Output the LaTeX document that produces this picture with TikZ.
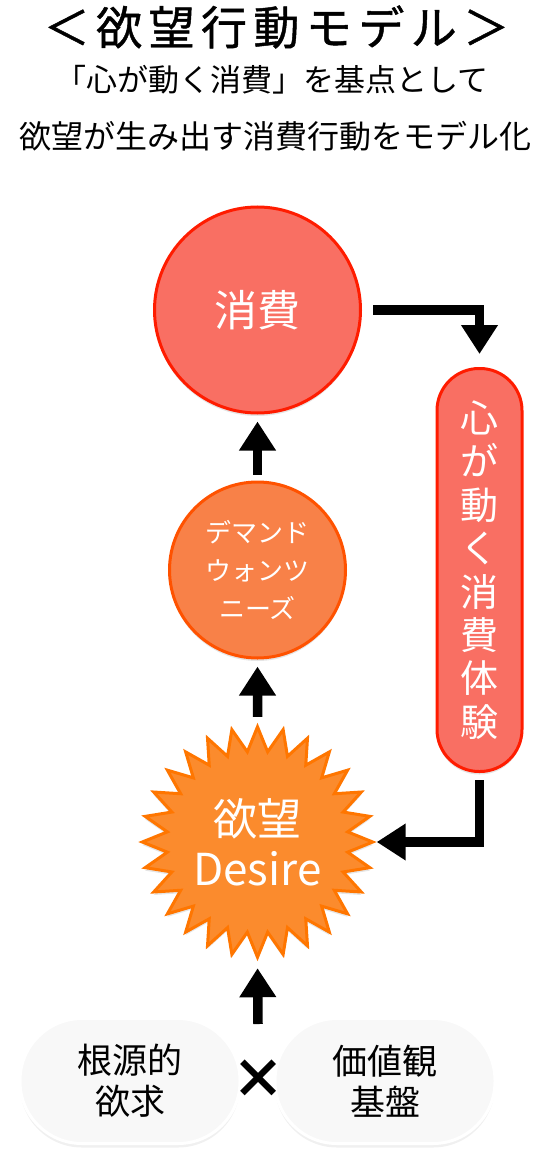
\documentclass[tikz,border=0pt]{standalone}
\usepackage{fontspec}
\setmainfont{Noto Sans CJK JP}
\newfontfamily\titlefont[LetterSpace=14,FakeBold=1]{Noto Sans CJK JP}
\usetikzlibrary{arrows.meta,shapes.geometric,shadows}

\definecolor{shohifill}{RGB}{249,111,99}
\definecolor{shohiline}{RGB}{255,28,0}
\definecolor{demandfill}{RGB}{248,129,72}
\definecolor{demandline}{RGB}{255,82,0}
\definecolor{desirefill}{RGB}{251,139,45}
\definecolor{desireline}{RGB}{255,118,0}
\definecolor{basefill}{RGB}{248,248,248}

\tikzset{
  softshadow/.style={drop shadow={shadow xshift=0pt,shadow yshift=-3pt,opacity=0.10,fill=black}},
  bigarrow/.style={line width=9.5pt,line join=miter,-{Triangle[width=35pt,length=29pt]}},
  ball/.style={circle,draw,line width=3pt,text=white,align=center,inner sep=0pt,softshadow},
  desirestar/.style={star,star points=28,star point ratio=1.27,minimum size=224pt,inner sep=0pt,
    draw=desireline,fill=desirefill,line width=3pt,text=white,align=center,softshadow,
    font=\fontsize{44}{50}\selectfont},
  taikenpill/.style={rectangle,rounded corners=42pt,minimum width=85pt,minimum height=403pt,
    draw=shohiline,fill=shohifill,line width=3pt,text=white,align=center,softshadow,
    font=\fontsize{38}{43.4}\selectfont},
  basepill/.style={rectangle,rounded corners=62pt,minimum width=220pt,minimum height=125pt,
    draw=white,fill=basefill,line width=3pt,align=center,
    drop shadow={shadow xshift=0pt,shadow yshift=-4pt,opacity=0.06,fill=black},
    font=\fontsize{35}{41}\selectfont}
}

\begin{document}
\begin{tikzpicture}[x=1pt,y=-1pt]
  \useasboundingbox (0,0) rectangle (553,1166);

  % draw the title and the two lines below it
  \node (title) at (276.5,27) {\titlefont\fontsize{46}{46}\selectfont ＜欲望行動モデル＞};
  \node (lineA) at (272,80) {\fontsize{31}{31}\selectfont 「心が動く消費」を基点として};
  \node (lineB) at (275.5,136) {\fontsize{32}{32}\selectfont 欲望が生み出す消費行動をモデル化};

  % draw the circles and the star
  \node[ball,draw=shohiline,fill=shohifill,minimum size=206pt,font=\fontsize{43}{43}\selectfont]
    (shohi) at (257.5,310) {消費};
  \node[ball,draw=demandline,fill=demandfill,minimum size=176pt,font=\fontsize{26}{38}\selectfont]
    (demand) at (257.5,570) {デマンド\\ウォンツ\\ニーズ};
  \node[desirestar] (desire) at (257.5,842) {欲望\\Desire};

  % draw the pill on the right
  \node[taikenpill] (taiken) at (479.5,570) {心\\が\\動\\く\\消\\費\\体\\験};

  % draw the two pills at the bottom
  \node[basepill] (kongen) at (130,1081) {根源的\\欲求};
  \node[basepill] (kachi) at (385,1081) {価値観\\基盤};
  \node[font=\bfseries\fontsize{54}{54}\selectfont] (times) at (258,1079) {×};
  \coordinate (root) at (258,1024);

  % draw the arrows
  \draw[bigarrow,shorten >=7pt] (root) -- (desire.south);
  \foreach \from/\to in {desire/demand,demand/shohi}
    \draw[bigarrow,shorten <=6pt,shorten >=7pt] (\from.north) -- (\to.south);
  \draw[bigarrow,shorten <=11pt,shorten >=13pt] (shohi.east) -| (taiken.north);
  \draw[bigarrow,shorten <=7pt] (taiken.south) |- (desire.east);
\end{tikzpicture}
\end{document}
